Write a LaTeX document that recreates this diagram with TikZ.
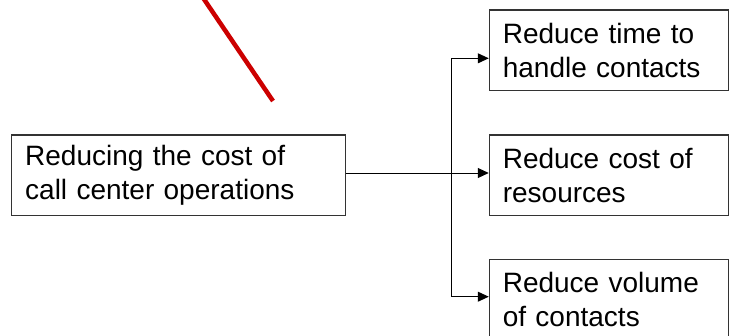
\documentclass[tikz,border=0pt]{standalone}
\usepackage{fontspec}
\setmainfont{Liberation Sans}
\usetikzlibrary{arrows.meta}
\definecolor{boxline}{HTML}{333333}
\definecolor{redline}{HTML}{CC0000}
\begin{document}
\begin{tikzpicture}[x=1pt,y=-1pt,
  txtbox/.style={draw=boxline, line width=1.1pt, rectangle, align=left,
    inner xsep=13.5pt, inner ysep=0pt, minimum height=80.7pt,
    font=\fontsize{28}{33.5}\selectfont},
  leftbox/.style={txtbox, text width=307pt},
  rightbox/.style={txtbox, text width=212.4pt},
  conn/.style={draw=black, line width=1pt},
  tip/.style={-{Triangle[length=11pt,width=10pt]}},
  redstroke/.style={draw=redline, line width=4.5pt}
]
\useasboundingbox (0,0) rectangle (734,335);
\node[leftbox] (L) at (178.7,175.3) {Reducing the cost of\\call center operations};
\node[rightbox] (B1) at (609,50.3) {Reduce time to\\handle contacts};
\node[rightbox] (B2) at (609,175.3) {Reduce cost of\\resources};
\node[rightbox] (B3) at (609,299.7) {Reduce volume\\of contacts};
\coordinate (j) at (451.7,173);
\coordinate (t1) at (451.7,58.3);
\coordinate (t3) at (451.7,296.7);
\draw[conn,tip] (L.east |- j) -- (B2.west |- j);
\draw[conn,{Triangle[length=11pt,width=10pt]}-{Triangle[length=11pt,width=10pt]}]
  (B1.west |- t1) -- (t1) -- (t3) -- (B3.west |- t3);
\coordinate (r1) at (202.5,-3);
\coordinate (r2) at (273,101);
\draw[redstroke] (r1) -- (r2);
\end{tikzpicture}
\end{document}
